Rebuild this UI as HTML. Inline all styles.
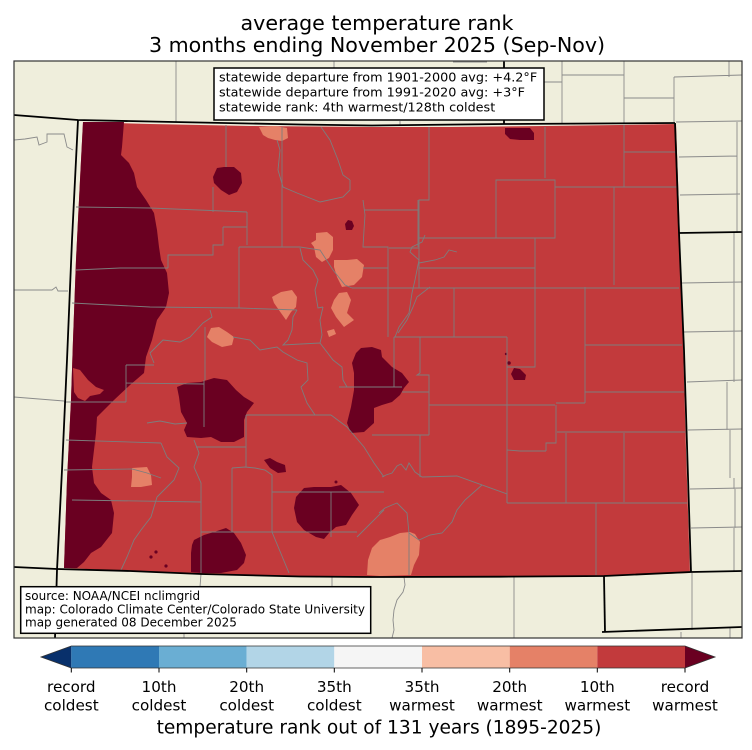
<!DOCTYPE html>
<html><head><meta charset="utf-8"><style>
html,body{margin:0;padding:0;background:#fff;}
svg{display:block;}
text{font-family:"DejaVu Sans","Liberation Sans",sans-serif;fill:#000;}
</style></head><body>
<svg width="752" height="750" viewBox="0 0 752 750" xmlns="http://www.w3.org/2000/svg">
<rect x="0" y="0" width="752" height="750" fill="#fff"/>
<!-- map background -->
<rect x="14" y="61" width="728" height="577" fill="#efeedc"/>
<!-- neighbor county lines -->
<g fill="none" stroke="#8a8a8a" stroke-width="0.9">
<path d="M176,61 V122 M334,61 V68 M400,121 V125.5 M453,62 H487"/>
<path d="M562,61 V123 M544,82 H562 M562,75 H624 M624,61 V124 M624,98 H674 M674,77 V122 M674,77 L742,75 M729,61 V77 M676,122 L742,121 M679,157 L737,156 M680,195 L740,194 M737,122 V233"/>
<path d="M734,233 V382 M727,382 V430 M730,430 V478 M734,478 V489 M735,489 V528 M734,528 V572 M682,283 L742,282 M683,332 L742,331 M687,382 L742,380 M688,430 L742,429 M690,489 L742,488 M691,528 L742,527"/>
<path d="M692,573 V630 M681,632 V638 M730,627 V638"/>
<path d="M404,577 L405,585 L403,592 L397,600 L394,610 L393,620 L394,630 L392,638 M514,577 V638"/>
<path d="M201,574 L200,587 L198,600 M332,577 V600 M184,630 V638"/>
<path d="M14,140 L25,139 L37,137 L39,145 L47,142 L47,134 L64,134 L67,147 L73,150 M14,290 L52,290 L56,287 L58,291 L68,291 M14,397 L64,401"/>
</g>
<!-- Colorado fill -->
<path d="M83,122 L150,124 L250,126 L372,127 L450,127 L545,126 L620,125 L676,124 L678,180 L680,240 L683,340 L686,450 L690,573 L600,576 L500,577 L372,577 L300,576 L201,574 L130,571 L64,568 L67,480 L71,400 L73,340 L76,260 L80,180 Z" fill="#c23a3c"/>
<!-- record warmest -->
<g fill="#6a0021">
<path d="M83,122 L124,122 L122,147 L121,155 L129,163 L134,173 L137,187 L146,200 L154,213 L157,230 L159,247 L161,260 L167,273 L169,293 L166,307 L157,320 L152,340 L146,357 L144,373 L130,385 L114,400 L97,417 L96,433 L94,450 L92,467 L94,483 L101,493 L111,500 L114,513 L112,533 L101,547 L91,553 L84,562 L77,568 L64,568 L67,480 L71,400 L73,340 L76,260 L80,180 Z"/>
<path d="M217,168 L224,167 L234,167 L241,173 L242,183 L237,192 L229,195 L221,190 L214,183 L213,177 Z"/>
<path d="M345,224 L348,220 L352,221 L354,226 L352,230 L346,230 Z"/>
<path d="M505,128 L530,128 L534,133 L534,140 L520,140 L510,139 L505,134 Z"/>
<path d="M361,348 L372,347 L381,350 L382,357 L392,367 L402,373 L409,382 L404,388 L400,395 L392,402 L382,405 L374,408 L374,423 L364,432 L351,433 L347,423 L351,407 L354,390 L354,373 L352,363 L356,353 Z"/>
<path d="M514,368 L520,369 L526,375 L525,380 L514,380 L511,374 Z"/>
<circle cx="506" cy="354" r="1.2"/><circle cx="509" cy="363" r="1.8"/>
<path d="M177,387 L187,383 L201,382 L214,378 L227,380 L236,390 L244,397 L254,403 L247,412 L244,420 L244,437 L234,442 L221,442 L211,437 L201,438 L187,437 L184,430 L187,423 L181,412 L179,397 Z"/>
<path d="M264,460 L270,458 L277,462 L285,465 L286,472 L278,473 L270,468 Z"/>
<path d="M296,497 L304,488 L314,487 L331,487 L341,485 L351,493 L359,505 L352,515 L346,525 L336,527 L329,533 L324,539 L316,537 L304,530 L297,522 L294,508 Z"/>
<circle cx="336" cy="482" r="1.5"/>
<path d="M194,540 L204,535 L214,532 L226,528 L234,533 L241,543 L246,555 L244,563 L237,570 L221,573 L201,573 L191,572 L191,553 L192,545 Z"/>
<circle cx="151" cy="557" r="1.6"/><circle cx="156" cy="552" r="1.6"/><circle cx="166" cy="566" r="1.6"/>
</g>
<!-- red bump inside dark -->
<path d="M73,368 L80,370 L88,380 L96,387 L104,390 L100,394 L90,396 L85,401 L78,398 L74,392 Z" fill="#c23a3c"/>
<!-- 20th warmest -->
<g fill="#e58167">
<path d="M259,127 L275,126 L287,128 L288,138 L282,141 L275,140 L268,138 L263,135 Z"/>
<path d="M316,233 L327,232 L333,237 L333,250 L329,258 L322,262 L316,257 L314,247 L311,243 L316,240 Z"/>
<path d="M334,260 L347,260 L357,259 L364,265 L362,277 L354,285 L342,287 L337,277 L334,267 Z"/>
<path d="M339,293 L347,292 L351,300 L347,313 L354,320 L344,327 L336,317 L331,308 L334,300 Z"/>
<path d="M327,331 L334,329 L336,334 L329,337 Z"/>
<path d="M281,292 L292,290 L297,297 L296,307 L291,312 L286,320 L281,313 L274,303 L272,297 Z"/>
<path d="M211,328 L219,327 L227,332 L234,337 L232,345 L222,347 L212,342 L207,337 Z"/>
<path d="M132,468 L147,467 L151,475 L152,485 L141,487 L131,487 L132,477 Z"/>
<path d="M372,548 L380,540 L390,537 L400,533 L410,532 L415,534 L420,542 L419,555 L414,565 L411,575 L380,576 L367,575 L368,560 Z"/>
</g>
<!-- Colorado county lines -->
<g fill="none" stroke="#7d7d7d" stroke-width="0.9">
<path d="M429,127 V200 H419 V288 M364,210 H419 M545,127 V178 M496,180 H555 V238 H496 Z M624,125 V187 M624,152 H676 M555,187 H677 M614,187 V285 M419,238 H496 M535,238 V367 H507 M419,268 H535 M352,288 H679 M585,287 V403 M585,345 H682 M454,288 V337 M394,337 H507 M507,337 V503 M389,248 H419"/>
<path d="M425,235 L422,242 L412,247 L410,252 L419,260 L415,280 L412,293 L409,313 L399,327 L395,337 M419,263 L435,260 L444,257 L449,250 L457,252 M430,287 L417,297 L413,307 L407,320 L398,333"/>
<path d="M394,337 V387 M420,337 V373 L417,375 H429 V435 M372,387 H402 M402,392 H429 M372,435 H429 M556,403 H585 M429,405 H555 M585,392 H684 M556,405 V443 H546 V451 M507,450 L520,451 L546,451 M557,432 H685 M566,433 V503 M624,433 V502 M507,503 H687 M596,503 V575"/>
<path d="M420,435 V477 M422,477 L457,476 L507,494 L507,503 M382,477 L386,475 L392,473 L397,466 L401,464 L406,470 L409,463 L415,472 L422,477 M482,485 L465,500 L457,510 L452,522 L442,533 L430,535 L419,540 L409,533 L409,575 M379,513 L385,508 L392,505 L397,503 L402,508 L407,513 L409,533"/>
<path d="M226,125 V167 M213,187 V212 M76,207 L150,208 L247,212 M247,212 V245 M223,227 H247 M223,227 V245 H213 V255 H168 V268 M76,270 L120,268 L168,268 M72,303 L150,307 L240,308 L297,310 M239,247 V308 M239,247 H300 L320,250 L333,270 L345,285 L352,288 M282,127 V247"/>
<path d="M277,140 L280,150 L278,170 L283,187 L297,193 L320,202 L343,197 L350,190 L350,180 M321,127 L330,140 L338,160 L343,175 L350,180 M363,200 L365,215 L364,230 L363,247 H388 V337 M367,210 H418 M418,200 V247 M363,268 H388 M300,248 L303,260 L313,270 L318,280 L315,290 L318,308 L323,307"/>
<path d="M210,310 L212,317 L203,323 L190,337 L180,342 L163,340 L150,353 L154,363 M205,327 V380 M233,337 L250,340 L260,350 L277,347 L283,352 L297,360 L307,363 L308,380 L301,387 L307,403 L315,415 M297,310 L293,317 L292,330 L288,340 L283,345 L320,343 M323,307 L320,320 L322,335 L320,343 L333,360 L342,367 L343,380 L347,387"/>
<path d="M126,365 H154 M126,365 V402 M64,402 H126 M126,383 L204,384 M204,380 V427 M147,423 L160,421 L175,424 L187,423 M66,440 L161,443 M161,443 L167,457 L179,468 L174,480 L167,487 L157,497 M64,470 L132,469 L147,473 L161,478 M72,500 L201,502 M201,500 V573 M157,497 L151,517 L141,530 L134,540 L127,557 L121,570 M194,440 L199,453 L194,467 L201,483 L201,500 M196,447 H246 M246,415 V467 M246,415 H331 M331,415 L347,427 L364,447 L374,463 L384,477"/>
<path d="M232,468 V532 M232,468 L245,467 L255,468 L265,470 L272,475 L272,482 M272,482 V532 M201,532 H357 M272,492 H384 M331,492 V537 M272,532 L289,573 M357,537 L384,510 M339,387 H384"/>
</g>
<!-- state borders -->
<g fill="none" stroke="#000" stroke-width="1.8" stroke-linejoin="round">
<path d="M14,115 L78,120 L174,122 L300,124.5 L372,125.5 L504,124 L675,123"/>
<path d="M504,61 V124"/>
<path d="M675,123 L679,233 L684,350 L691,572"/>
<path d="M679,233 L742,232"/>
<path d="M691,572 L742,571"/>
<path d="M14,567 L57,569 L130,571 L201,574 L300,576.5 L372,577 L500,576.7 L604,576 L691,572"/>
<path d="M604,576 L605,632"/>
<path d="M602,632 L742,627"/>
<path d="M78,120 L72,240 L67,360 L62,470 L57,570 L55,638"/>
</g>
<!-- frame -->
<rect x="14" y="61" width="728" height="577" fill="none" stroke="#333" stroke-width="1.2"/>
<!-- info box -->
<rect x="214" y="68" width="330" height="52" fill="#fff" stroke="#000" stroke-width="1.5"/>
<text x="219" y="81.5" font-size="12.8">statewide departure from 1901-2000 avg: +4.2°F</text>
<text x="219" y="96.5" font-size="12.8">statewide departure from 1991-2020 avg: +3°F</text>
<text x="219" y="111.5" font-size="12.8">statewide rank: 4th warmest/128th coldest</text>
<!-- source box -->
<rect x="20.7" y="586.7" width="350" height="46.6" fill="#fff" stroke="#000" stroke-width="1.5"/>
<text x="25" y="600" font-size="12">source: NOAA/NCEI nclimgrid</text>
<text x="25" y="613.3" font-size="12">map: Colorado Climate Center/Colorado State University</text>
<text x="25" y="626.5" font-size="12">map generated 08 December 2025</text>
<!-- title -->
<text x="377" y="30" font-size="20.6" text-anchor="middle">average temperature rank</text>
<text x="377" y="52" font-size="20.6" text-anchor="middle">3 months ending November 2025 (Sep-Nov)</text>
<!-- colorbar -->
<polygon points="41,657 71.3,646 71.3,668" fill="#08306b"/>
<rect x="71.3" y="646" width="87.7" height="22" fill="#2f79b5"/>
<rect x="159" y="646" width="87.7" height="22" fill="#6aaed3"/>
<rect x="246.7" y="646" width="87.6" height="22" fill="#b2d5e7"/>
<rect x="334.3" y="646" width="87.7" height="22" fill="#f5f5f5"/>
<rect x="422" y="646" width="87.7" height="22" fill="#f8bea4"/>
<rect x="509.7" y="646" width="87.6" height="22" fill="#e58167"/>
<rect x="597.3" y="646" width="87.7" height="22" fill="#c23a3c"/>
<polygon points="685,646 715,657 685,668" fill="#6a0021"/>
<path d="M41,657 L71.3,646 L685,646 L715,657 L685,668 L71.3,668 Z" fill="none" stroke="#333" stroke-width="0.8"/>
<g stroke="#000" stroke-width="1">
<path d="M71.3,668 V672.5 M159,668 V672.5 M246.7,668 V672.5 M334.3,668 V672.5 M422,668 V672.5 M509.7,668 V672.5 M597.3,668 V672.5 M685,668 V672.5"/>
</g>
<g font-size="15.2" text-anchor="middle">
<text x="71.3" y="692">record</text><text x="71.3" y="710.5">coldest</text>
<text x="159" y="692">10th</text><text x="159" y="710.5">coldest</text>
<text x="246.7" y="692">20th</text><text x="246.7" y="710.5">coldest</text>
<text x="334.3" y="692">35th</text><text x="334.3" y="710.5">coldest</text>
<text x="422" y="692">35th</text><text x="422" y="710.5">warmest</text>
<text x="509.7" y="692">20th</text><text x="509.7" y="710.5">warmest</text>
<text x="597.3" y="692">10th</text><text x="597.3" y="710.5">warmest</text>
<text x="685" y="692">record</text><text x="685" y="710.5">warmest</text>
</g>
<text x="379" y="733.5" font-size="18.6" text-anchor="middle">temperature rank out of 131 years (1895-2025)</text>
</svg>
</body></html>
